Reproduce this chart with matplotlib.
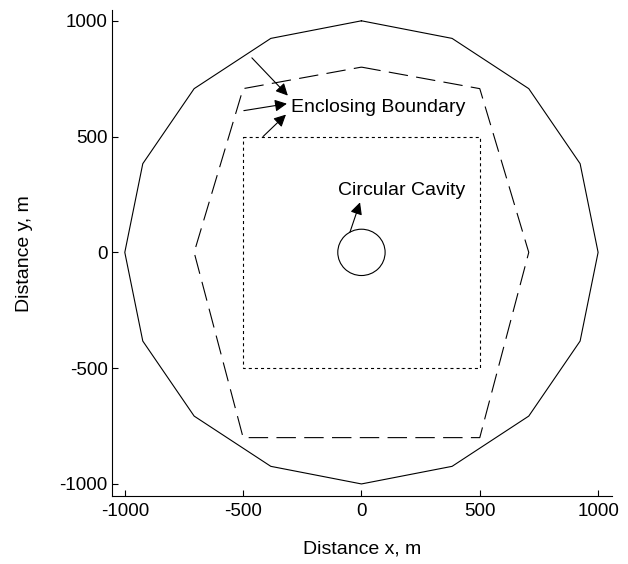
import matplotlib
matplotlib.use("Agg")
import matplotlib.pyplot as plt
from matplotlib.patches import Circle

plt.rcParams['font.family'] = ['Liberation Sans', 'DejaVu Sans']
plt.rcParams['lines.scale_dashes'] = False

# Outer enclosing boundary (16-gon)
outer_x = [0, 383, 707, 924, 1000, 924, 707, 383, 0, -383, -707, -924, -1000, -924, -707, -383, 0]
outer_y = [1000, 924, 707, 383, 0, -383, -707, -924, -1000, -924, -707, -383, 0, 383, 707, 924, 1000]

# Middle enclosing boundary (dashed)
mid_x = [0, 500, 707, 500, -500, -707, -500, 0]
mid_y = [800, 707, 0, -800, -800, 0, 707, 800]

# Inner enclosing boundary (square, dotted)
sq_x = [-500, 500, 500, -500, -500]
sq_y = [500, 500, -500, -500, 500]

# Circular cavity
cav_center = (0, 0)
cav_radius = 100

# Annotations
enc_text = "Enclosing Boundary"
enc_text_xy = (-298, 625)
enc_arrow_starts = [(-463, 840), (-497, 612), (-416, 500)]
enc_arrow_tips = [(-311, 677), (-315, 642), (-319, 595)]

cav_text = "Circular Cavity"
cav_text_xy = (-97, 267)
cav_arrow_start = (-49, 86)
cav_arrow_tip = (-6, 216)

ticks = [-1000, -500, 0, 500, 1000]
tick_labels = ["-1000", "-500", "0", "500", "1000"]

fig = plt.figure(figsize=(6.28, 5.64), dpi=100)
ax = fig.add_axes([0.178, 0.1206, 0.797, 0.861])

lw = 0.8
ax.plot(outer_x, outer_y, color='k', lw=lw)
ax.plot(mid_x, mid_y, color='k', lw=lw, dashes=(14, 6))
ax.plot(sq_x, sq_y, color='k', lw=lw, dashes=(2.2, 2.2))
ax.add_patch(Circle(cav_center, cav_radius, fill=False, ec='k', lw=lw))

ap = dict(arrowstyle='-|>', mutation_scale=18, lw=lw, color='k', shrinkA=0, shrinkB=0)
for s, t in zip(enc_arrow_starts, enc_arrow_tips):
    ax.annotate("", xy=t, xytext=s, arrowprops=ap)
ax.text(enc_text_xy[0], enc_text_xy[1], enc_text, fontsize=14, va='center', ha='left')

ax.annotate("", xy=cav_arrow_tip, xytext=cav_arrow_start, arrowprops=ap)
ax.text(cav_text_xy[0], cav_text_xy[1], cav_text, fontsize=14, va='center', ha='left')

ax.set_xlim(-1055, 1060)
ax.set_ylim(-1052, 1045)
ax.set_xticks(ticks)
ax.set_xticklabels(tick_labels)
ax.set_yticks(ticks)
ax.set_yticklabels(tick_labels)
ax.tick_params(direction='in', length=4, width=0.8, labelsize=13.5)
ax.tick_params(axis='y', pad=3)
ax.tick_params(axis='x', pad=5)
for side in ['top', 'right']:
    ax.spines[side].set_visible(False)
for side in ['left', 'bottom']:
    ax.spines[side].set_linewidth(0.8)

ax.set_xlabel("Distance x, m", fontsize=14, labelpad=15)
ax.set_ylabel("Distance y, m", fontsize=14, labelpad=19)

fig.savefig("out.png", dpi=100)
